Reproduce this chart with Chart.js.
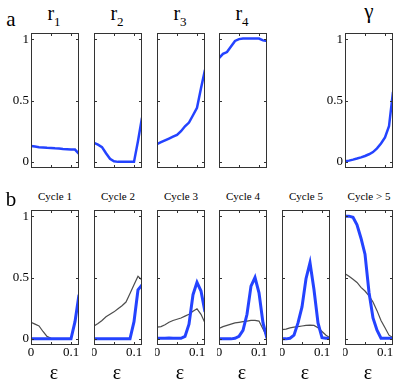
<!DOCTYPE html>
<html>
<head>
<meta charset="utf-8">
<script src="https://cdn.jsdelivr.net/npm/chart.js@4.4.1/dist/chart.umd.min.js"></script>
<style>
  body { margin: 0; background: #fff; width: 415px; height: 388px; overflow: hidden; position: relative;
         font-family: "Liberation Serif", "Times New Roman", serif; }
  .lbl { position: absolute; color: #000; white-space: nowrap; text-align: center; line-height: 1; width: 100px; }
  canvas { position: absolute; }
</style>
</head>
<body>
<script>
// x values (epsilon) shared by every panel
const eps = [0, 0.01, 0.02, 0.03, 0.04, 0.05, 0.06, 0.07, 0.08, 0.09, 0.10, 0.11, 0.12];
const xTicks = [0, 0.05, 0.1];
const xTickLabels = [0, 0.1];
const yTicks = [0, 0.5, 1];

// row a
const r1 = [0.13, 0.125, 0.12, 0.118, 0.115, 0.113, 0.11, 0.108, 0.105, 0.103, 0.10, 0.10, 0.065];
const r2 = [0.155, 0.14, 0.12, 0.07, 0.025, 0.005, 0, 0, 0, 0, 0, 0.17, 0.36];
const r3 = [0.145, 0.16, 0.175, 0.19, 0.205, 0.22, 0.25, 0.29, 0.32, 0.38, 0.44, 0.60, 0.75];
const r4 = [0.845, 0.88, 0.895, 0.94, 0.985, 1.0, 1.005, 1.005, 1.005, 1.005, 1.005, 0.99, 0.985];
const gamma = [0.005, 0.01, 0.018, 0.027, 0.037, 0.048, 0.062, 0.08, 0.11, 0.15, 0.20, 0.29, 0.57];

// row b: thick blue and thin gray curves
const cycle1Blue = [0, 0, 0, 0, 0, 0, 0, 0, 0, 0, 0, 0.14, 0.36];
const cycle1Gray = [0.135, 0.12, 0.105, 0.06, 0.02, 0.005, 0, 0, 0, 0, 0, 0.14, 0.34];
const cycle2Blue = [0, 0, 0, 0, 0, 0, 0, 0, 0, 0, 0.14, 0.40, 0.44];
const cycle2Gray = [0.105, 0.125, 0.15, 0.18, 0.20, 0.22, 0.245, 0.27, 0.30, 0.37, 0.44, 0.51, 0.48];
const cycle3Blue = [0.005, 0.005, 0.005, 0.008, 0.005, 0.005, 0.005, 0.02, 0.12, 0.36, 0.46, 0.39, 0.22];
const cycle3Gray = [0.095, 0.10, 0.115, 0.135, 0.15, 0.16, 0.17, 0.185, 0.20, 0.225, 0.245, 0.20, 0.13];
const cycle4Blue = [0, 0, 0, 0, 0.005, 0.02, 0.07, 0.20, 0.43, 0.50, 0.375, 0.13, 0.005];
const cycle4Gray = [0.085, 0.10, 0.11, 0.12, 0.13, 0.135, 0.14, 0.145, 0.15, 0.15, 0.145, 0.08, 0.015];
const cycle5Blue = [0, 0, 0.005, 0.03, 0.13, 0.26, 0.49, 0.62, 0.40, 0.13, 0.01, 0.005, 0.005];
const cycle5Gray = [0.075, 0.08, 0.09, 0.095, 0.10, 0.105, 0.11, 0.112, 0.11, 0.09, 0.06, 0.03, 0.01];
const cycle6Blue = [1.0, 1.0, 0.99, 0.93, 0.82, 0.69, 0.38, 0.17, 0.07, 0.005, 0.005, 0.005, 0.005];
const cycle6Gray = [0.53, 0.51, 0.485, 0.46, 0.42, 0.39, 0.35, 0.30, 0.23, 0.15, 0.09, 0.03, 0.01];

const cycleNames = ['Cycle 1', 'Cycle 2', 'Cycle 3', 'Cycle 4', 'Cycle 5', 'Cycle > 5'];

const BLUE = '#2443ff';
const GRAY = '#4d4d4d';
const PANEL_W = 48, PANEL_H = 135;
const colLeft = [31, 94, 157, 219, 282, 345];
const rowTop = [33, 210];
const TICK_FONT = '13px "Liberation Serif", "Times New Roman", serif';

// box, inward tick marks on all four sides (matlab look) and tick labels
const framePlugin = {
    id: 'frame',
    afterDraw(chart, args, opts) {
        const { ctx, chartArea: a, scales } = chart;
        ctx.save();
        ctx.strokeStyle = '#333';
        ctx.lineWidth = 1;
        ctx.strokeRect(a.left + 0.5, a.top + 0.5, a.width - 1, a.height - 1);
        ctx.beginPath();
        yTicks.forEach(v => {
            const py = Math.round(scales.y.getPixelForValue(v)) + 0.5;
            ctx.moveTo(a.left, py); ctx.lineTo(a.left + 3, py);
            ctx.moveTo(a.right, py); ctx.lineTo(a.right - 3, py);
        });
        xTicks.forEach(v => {
            const px = Math.round(scales.x.getPixelForValue(v)) + 0.5;
            ctx.moveTo(px, a.bottom); ctx.lineTo(px, a.bottom - 3);
            ctx.moveTo(px, a.top); ctx.lineTo(px, a.top + 3);
        });
        ctx.stroke();

        ctx.fillStyle = '#000';
        ctx.font = TICK_FONT;
        if (opts.showY) {
            ctx.textAlign = 'right';
            ctx.textBaseline = 'middle';
            yTicks.forEach(v => ctx.fillText(String(v), a.left - 2, scales.y.getPixelForValue(v)));
        }
        if (opts.showX) {
            ctx.textAlign = 'center';
            ctx.textBaseline = 'top';
            xTickLabels.forEach(v => ctx.fillText(String(v), scales.x.getPixelForValue(v), a.bottom + 1));
        }
        ctx.restore();
    }
};

function toPoints(vals) {
    return eps.map((e, i) => ({ x: e, y: vals[i] }));
}

function panel(col, row, blue, gray, showY, showX) {
    const padL = showY ? 30 : 2;
    const padB = showX ? 18 : 2;
    const w = PANEL_W + padL + 2, h = PANEL_H + 2 + padB;
    const cv = document.createElement('canvas');
    cv.width = w; cv.height = h;
    cv.style.width = w + 'px'; cv.style.height = h + 'px';
    cv.style.left = (colLeft[col] - padL) + 'px';
    cv.style.top = (rowTop[row] - 2) + 'px';
    document.body.appendChild(cv);

    const datasets = [{ data: toPoints(blue), borderColor: BLUE, borderWidth: row === 0 ? 2.5 : 3, order: 0 }];
    if (gray) datasets.push({ data: toPoints(gray), borderColor: GRAY, borderWidth: 1.2, order: 1 });
    datasets.forEach(d => { d.pointRadius = 0; d.tension = 0; d.fill = false; });

    new Chart(cv, {
        type: 'line',
        data: { datasets },
        options: {
            responsive: false,
            animation: false,
            devicePixelRatio: 1,
            layout: { autoPadding: false, padding: { left: padL, right: 2, top: 2, bottom: padB } },
            plugins: {
                legend: { display: false },
                tooltip: { enabled: false },
                frame: { showY, showX }
            },
            scales: {
                x: { type: 'linear', min: 0, max: 0.12, display: false },
                y: { type: 'linear', min: -0.05, max: 1.05, display: false }
            }
        },
        plugins: [framePlugin]
    });
}

function label(html, cx, top, size) {
    const d = document.createElement('div');
    d.className = 'lbl';
    d.style.left = (cx - 50) + 'px';
    d.style.top = top + 'px';
    d.style.fontSize = size + 'px';
    d.innerHTML = html;
    document.body.appendChild(d);
}

// row a
panel(0, 0, r1, null, true, false);
panel(1, 0, r2, null, false, false);
panel(2, 0, r3, null, false, false);
panel(3, 0, r4, null, false, false);
panel(5, 0, gamma, null, true, false);

// row b
const blues = [cycle1Blue, cycle2Blue, cycle3Blue, cycle4Blue, cycle5Blue, cycle6Blue];
const grays = [cycle1Gray, cycle2Gray, cycle3Gray, cycle4Gray, cycle5Gray, cycle6Gray];
blues.forEach((b, i) => panel(i, 1, b, grays[i], i === 0, true));

// titles and labels
const sub = n => 'r<span style="font-size:13px;position:relative;top:6px">' + n + '</span>';
[1, 2, 3, 4].forEach((n, i) => label(sub(n), colLeft[i] + PANEL_W / 2 - 1, 3, 20));
label('γ', colLeft[5] + PANEL_W / 2, 1, 21);
cycleNames.forEach((t, i) => label(t, colLeft[i] + PANEL_W / 2, 191, 11));
colLeft.forEach(l => label('ε', l + PANEL_W / 2 - 1, 362, 20));
label('a', 11, 9, 21);
label('b', 11, 189, 21);
</script>
</body>
</html>
